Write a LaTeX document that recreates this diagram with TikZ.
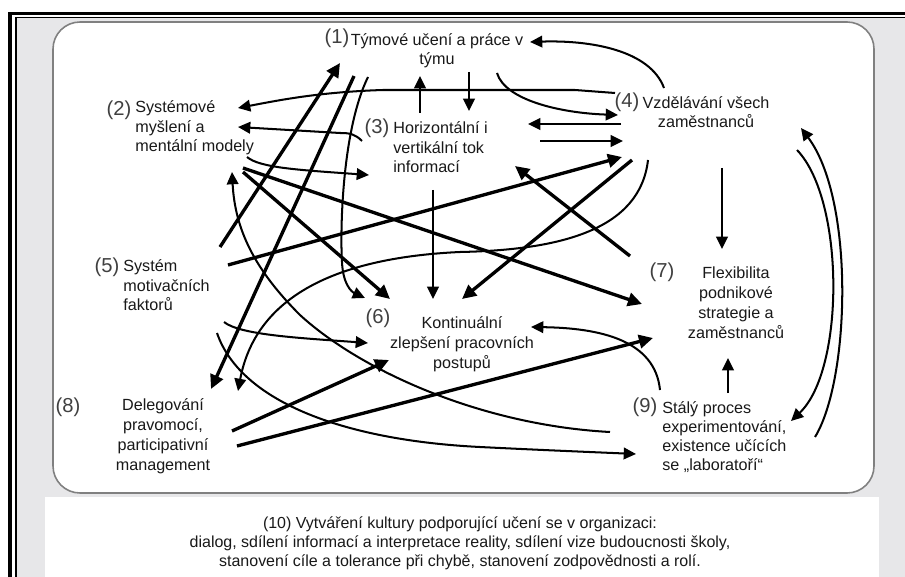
\documentclass[tikz,border=0pt]{standalone}
\usepackage{fontspec}
\setmainfont{Liberation Sans}
\usepackage{tikz}
\usetikzlibrary{arrows.meta}
\definecolor{framegray}{RGB}{231,231,233}
\definecolor{edgegray}{RGB}{128,128,128}

\begin{document}
\begin{tikzpicture}[x=0.02cm,y=-0.02cm,
        lbl/.style  = {font=\fontsize{9.2}{11.34}\selectfont, inner sep=0pt, text=black!90},
        lblL/.style = {lbl, align=left, anchor=base west},
        lblC/.style = {lbl, align=center, anchor=base},
        num/.style  = {font=\fontsize{11.5}{12}\selectfont, inner sep=0pt, text=black!75},
]
\tikzstyle{link}=[-{Triangle[length=7pt,width=6.6pt]}, line width=1.15pt]
\tikzstyle{heavylink}=[-{Triangle[length=8pt,width=7.6pt]}, line width=1.9pt]

	\useasboundingbox (0,0) rectangle (905,577);

	% frame and panels
	\fill[framegray] (16,18) rectangle (905,577);
	\draw[line width=2pt] (10,577) -- (10,13.5) -- (905,13.5);
	\draw[line width=0.9pt] (16,577) -- (16,17.5) -- (905,17.5);
	\draw[edgegray, line width=0.9pt, fill=white, rounded corners=0.54cm] (53,22) rectangle (874,493);
	\fill[white] (45,497) rectangle (879,577);

	% labels (placed at the baseline of their last line)
	\node[num] (num1) at (337,38) {(1)};
	\node[lblC] (lab1) at (437,65) {Týmové učení a práce v\\týmu};

	\node[num] (num2) at (119,110) {(2)};
	\node[lblL] (lab2) at (135,152) {Systémové\\myšlení a\\mentální modely};

	\node[num] (num3) at (377,128) {(3)};
	\node[lblL] (lab3) at (393,173) {Horizontální i\\vertikální tok\\informací};

	\node[num] (num4) at (627,102) {(4)};
	\node[lblC] (lab4) at (706,128) {Vzdělávání všech\\zaměstnanců};

	\node[num] (num5) at (107,267) {(5)};
	\node[lblL] (lab5) at (123,311) {Systém\\motivačních\\faktorů};

	\node[num] (num6) at (378,318) {(6)};
	\node[lblC] (lab6) at (462,368) {Kontinuální\\zlepšení pracovních\\postupů};

	\node[num] (num7) at (662,272) {(7)};
	\node[lblC] (lab7) at (736,338) {Flexibilita\\podnikové\\strategie a\\zaměstnanců};

	\node[num] (num8) at (68,407) {(8)};
	\node[lblC] (lab8) at (163,470) {Delegování\\pravomocí,\\participativní\\management};

	\node[num] (num9) at (645,407) {(9)};
	\node[lblL, font=\fontsize{9.2}{10.8}\selectfont] (lab9) at (662,470) {Stálý proces\\experimentování,\\existence učících\\se „laboratoří“};

	\node[lblC, font=\fontsize{9.1}{10.8}\selectfont] (lab10) at (460,566) {(10) Vytváření kultury podporující učení se v organizaci:\\dialog, sdílení informací a interpretace reality, sdílení vize budoucnosti školy,\\stanovení cíle a tolerance při chybě, stanovení zodpovědnosti a rolí.};

	% arrow ends
	\coordinate (s51) at (220,247); \coordinate (e51) at (340,63);
	\coordinate (s18) at (354,76);  \coordinate (e18) at (211,389);
	\coordinate (s16) at (368,77);  \coordinate (e16) at (365,298);
	\coordinate (s23) at (247,157); \coordinate (e23) at (369,175);
	\coordinate (s32) at (362,141); \coordinate (e32) at (238,127);
	\coordinate (s42) at (615,93);  \coordinate (e42) at (238,108);
	\coordinate (s31) at (420,113); \coordinate (e31) at (420,76);
	\coordinate (s13) at (469,72);  \coordinate (e13) at (469,111);
	\coordinate (s14) at (497,73);  \coordinate (e14) at (618,115);
	\coordinate (s41) at (664,88);  \coordinate (e41) at (530,42);
	\coordinate (s43) at (621,124); \coordinate (e43) at (528,124);
	\coordinate (s34) at (540,141); \coordinate (e34) at (623,141);
	\coordinate (s54) at (228,265); \coordinate (e54) at (622,157);
	\coordinate (s73) at (630,256); \coordinate (e73) at (515,166);
	\coordinate (s46) at (632,160); \coordinate (e46) at (462,299);
	\coordinate (s36) at (433,190); \coordinate (e36) at (433,299);
	\coordinate (s27) at (243,168); \coordinate (e27) at (642,304);
	\coordinate (s26) at (243,172); \coordinate (e26) at (390,299);
	\coordinate (s48) at (648,160); \coordinate (e48) at (238,391);
	\coordinate (s92) at (610,432); \coordinate (e92) at (232,172);
	\coordinate (s56) at (224,322); \coordinate (e56) at (368,343);
	\coordinate (s59) at (217,333); \coordinate (e59) at (636,454);
	\coordinate (s86) at (232,431); \coordinate (e86) at (389,360);
	\coordinate (s87) at (237,446); \coordinate (e87) at (653,338);
	\coordinate (s96) at (660,390); \coordinate (e96) at (531,327);
	\coordinate (s47) at (722,168); \coordinate (e47) at (722,249);
	\coordinate (s97) at (728,393); \coordinate (e97) at (728,358);
	\coordinate (s94) at (815,437); \coordinate (e94) at (801,128);
	\coordinate (s49) at (797,150); \coordinate (e49) at (791,421);

	% straight arrows
	\path
		(s51) edge [heavylink] (e51)
		(s18) edge [heavylink] (e18)
		(s54) edge [heavylink] (e54)
		(s73) edge [heavylink] (e73)
		(s46) edge [heavylink] (e46)
		(s27) edge [heavylink] (e27)
		(s26) edge [heavylink] (e26)
		(s86) edge [heavylink] (e86)
		(s87) edge [heavylink] (e87)
		(s31) edge [link] (e31)
		(s13) edge [link] (e13)
		(s43) edge [link] (e43)
		(s34) edge [link] (e34)
		(s36) edge [link] (e36)
		(s47) edge [link] (e47)
		(s97) edge [link] (e97);

	% curved arrows
	\draw[link] (s16) .. controls (342,130) and (340,230) .. (342,262) .. controls (343,285) and (352,292) .. (e16);
	\draw[link] (s23) .. controls (260,168) and (300,170) .. (e23);
	\draw[link] (s32) .. controls (355,134) and (350,133) .. (340,133) -- (e32);
	\draw[link] (s42) -- (575,90) -- (383,90) .. controls (320,92) and (280,100) .. (e42);
	\draw[link] (s14) .. controls (505,100) and (560,113) .. (e14);
	\draw[link] (s41) .. controls (650,50) and (590,40) .. (e41);
	\draw[link] (s48) .. controls (640,230) and (560,250) .. (460,252) .. controls (330,258) and (255,300) .. (e48);
	\draw[link] (s92) .. controls (480,425) and (360,370) .. (300,315) .. controls (255,270) and (235,230) .. (e92);
	\draw[link] (s56) .. controls (240,335) and (300,338) .. (e56);
	\draw[link] (s59) .. controls (240,400) and (340,440) .. (480,447) .. controls (540,450) and (590,452) .. (e59);
	\draw[link] (s96) .. controls (655,340) and (600,328) .. (e96);
	\draw[link] (s94) .. controls (850,380) and (855,200) .. (e94);
	\draw[link] (s49) .. controls (845,200) and (845,370) .. (e49);

\end{tikzpicture}
\end{document}
